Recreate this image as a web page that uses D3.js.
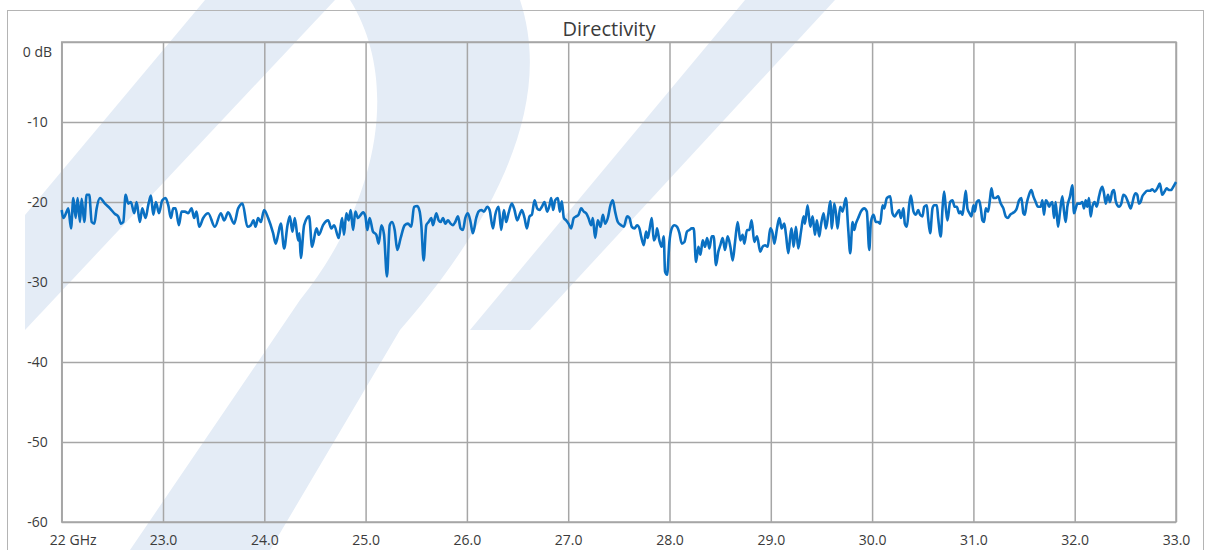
<!DOCTYPE html>
<html>
<head>
<meta charset="utf-8">
<style>
    body { margin: 0; background: #fff; }
    text { font-family: "Open Sans", sans-serif; fill: #3b3b3b; }
    .grid line { stroke: #a6a6a6; stroke-width: 1.5; }
    .grid path { display: none; }
</style>
</head>
<body>
<svg id="chart" width="1207" height="550"></svg>
<script src="https://cdn.jsdelivr.net/npm/d3@7/dist/d3.min.js"></script>
<script>
const freqGHz = [
    22.000, 22.016, 22.049, 22.065, 22.092, 22.115, 22.138, 22.157, 22.180, 22.197,
    22.223, 22.246, 22.272, 22.296, 22.322, 22.345, 22.378, 22.427, 22.476, 22.526,
    22.558, 22.585, 22.608, 22.631, 22.657, 22.683, 22.716, 22.739, 22.772, 22.795,
    22.828, 22.854, 22.881, 22.904, 22.930, 22.960, 22.992, 23.025, 23.052, 23.078,
    23.101, 23.124, 23.157, 23.183, 23.216, 23.249, 23.282, 23.308, 23.331, 23.357,
    23.397, 23.446, 23.512, 23.571, 23.604, 23.643, 23.702, 23.742, 23.785, 23.834,
    23.867, 23.893, 23.913, 23.939, 23.966, 23.998, 24.038, 24.087, 24.113, 24.136,
    24.163, 24.196, 24.229, 24.252, 24.278, 24.301, 24.334, 24.347, 24.360, 24.393,
    24.442, 24.472, 24.515, 24.538, 24.580, 24.630, 24.662, 24.689, 24.735,
    24.768, 24.787, 24.810, 24.833, 24.853, 24.876, 24.899, 24.925, 24.952, 24.975,
    24.998, 25.017, 25.040, 25.073, 25.106, 25.129, 25.156, 25.182, 25.211, 25.238,
    25.261, 25.287, 25.313, 25.346, 25.386, 25.418, 25.451, 25.478, 25.511, 25.534,
    25.550, 25.573, 25.599, 25.622, 25.649, 25.665, 25.698, 25.721, 25.741, 25.764,
    25.787, 25.813, 25.839, 25.862, 25.885, 25.912, 25.938, 25.961, 25.984, 26.010,
    26.036, 26.059, 26.092, 26.115,
    26.142, 26.168, 26.201, 26.224, 26.257, 26.280, 26.313, 26.339, 26.365, 26.388,
    26.411, 26.444, 26.470, 26.497, 26.520, 26.543, 26.569, 26.592, 26.618, 26.641,
    26.668, 26.694, 26.717, 26.740, 26.766, 26.793, 26.816, 26.832, 26.852, 26.871,
    26.898, 26.917, 26.937, 26.957, 26.980, 27.003, 27.029, 27.055, 27.079, 27.102,
    27.128, 27.154, 27.177, 27.200, 27.227, 27.243, 27.266, 27.292, 27.319, 27.342,
    27.365, 27.391, 27.417, 27.440, 27.463, 27.490,
    27.522, 27.549, 27.582, 27.605, 27.628, 27.654, 27.680, 27.703, 27.720, 27.746,
    27.769, 27.785, 27.802, 27.825, 27.845, 27.868, 27.877, 27.900, 27.923, 27.943,
    27.956, 27.976, 27.999, 28.022, 28.048, 28.075, 28.098, 28.121, 28.147, 28.173,
    28.196, 28.219, 28.239, 28.262, 28.285, 28.305, 28.328, 28.351, 28.371, 28.394,
    28.417, 28.436, 28.459, 28.482, 28.502, 28.525, 28.548, 28.574, 28.601, 28.624,
    28.647, 28.673, 28.699, 28.722, 28.739, 28.765, 28.788, 28.811, 28.837, 28.864,
    28.896, 28.919, 28.943, 28.969, 28.995, 29.018, 29.035, 29.061, 29.084, 29.107,
    29.133, 29.150, 29.173, 29.192, 29.205, 29.225, 29.248, 29.271, 29.298, 29.324,
    29.337, 29.363, 29.390, 29.413, 29.436, 29.455, 29.478, 29.495, 29.521, 29.544,
    29.567, 29.587, 29.603, 29.626, 29.643, 29.659, 29.685, 29.708, 29.741, 29.764,
    29.784, 29.807, 29.823, 29.840, 29.863, 29.889, 29.922, 29.948, 29.972, 29.988,
    30.014, 30.037, 30.060, 30.080, 30.103, 30.119, 30.146, 30.179, 30.201, 30.225,
    30.244,
    30.267, 30.284, 30.310, 30.323, 30.343, 30.366, 30.382, 30.409, 30.432, 30.455,
    30.474, 30.497, 30.514, 30.540, 30.553, 30.573, 30.596, 30.613, 30.639, 30.652,
    30.678, 30.695, 30.711, 30.728, 30.744, 30.770, 30.793, 30.816, 30.836, 30.859,
    30.875, 30.892, 30.908, 30.925, 30.941, 30.961, 30.981, 31.000, 31.013, 31.033,
    31.056, 31.073, 31.089, 31.106, 31.122, 31.145, 31.165, 31.178, 31.198, 31.221,
    31.244, 31.270, 31.296, 31.319, 31.342, 31.362, 31.385, 31.408, 31.428, 31.451,
    31.474, 31.493, 31.507, 31.526, 31.549, 31.572, 31.592, 31.615, 31.638,
    31.664, 31.681, 31.697, 31.714, 31.730, 31.747, 31.763, 31.779, 31.796, 31.812,
    31.835, 31.855, 31.878, 31.895, 31.911, 31.927, 31.954, 31.977, 31.993, 32.010,
    32.026, 32.052, 32.075, 32.092, 32.108, 32.124, 32.141, 32.157, 32.174, 32.197,
    32.217, 32.240, 32.256, 32.273, 32.289, 32.306, 32.329, 32.348, 32.371, 32.388,
    32.404, 32.420, 32.437, 32.460, 32.480, 32.503, 32.526, 32.552, 32.568, 32.585,
    32.601, 32.618, 32.634, 32.651, 32.667, 32.690, 32.716, 32.743, 32.766, 32.789,
    32.815, 32.841, 32.864, 32.887, 32.907, 32.930, 32.953, 32.973, 33.000
]

const directivityDb = [
    -21.0, -22.0, -21.2, -20.8, -23.3, -19.5, -22.0, -19.5, -22.5, -19.6,
    -22.5, -19.1, -19.1, -22.5, -22.7, -20.8, -19.5, -20.2, -20.8, -21.5,
    -21.8, -22.7, -22.5, -19.1, -20.2, -20.0, -21.4, -20.0, -22.5, -20.8,
    -22.0, -20.4, -19.2, -21.6, -20.0, -21.4, -19.8, -19.5, -20.4, -22.0,
    -20.8, -20.8, -22.9, -21.2, -21.2, -21.4, -20.8, -22.0, -21.2, -23.1,
    -22.0, -21.4, -23.1, -21.4, -22.3, -21.3, -22.7, -20.8, -20.2, -23.1,
    -22.9, -22.3, -23.1, -22.0, -22.5, -21.0, -22.0, -23.9, -25.2, -24.1,
    -22.7, -25.8, -22.9, -21.8, -23.7, -22.0, -24.8, -23.9, -27.0, -22.9,
    -21.8, -25.6, -23.3, -24.1, -22.9, -22.3, -23.3, -22.9, -24.5,
    -22.0, -24.1, -21.4, -22.3, -21.0, -23.5, -21.2, -22.0, -21.6, -21.3,
    -21.8, -23.5, -22.0, -23.7, -24.1, -25.2, -22.9, -24.1, -29.3, -22.9,
    -22.5, -23.5, -26.0, -24.5, -22.9, -22.7, -23.1, -20.6, -20.5, -21.2,
    -22.9, -27.3, -22.9, -22.5, -22.0, -22.9, -21.4, -22.3, -22.5, -22.0,
    -22.7, -22.3, -22.7, -22.9, -22.5, -21.8, -23.3, -23.5, -22.0, -21.4,
    -22.5, -23.9, -22.0, -21.2,
    -21.0, -21.2, -20.6, -21.0, -23.3, -21.6, -20.6, -23.5, -21.0, -22.5,
    -21.4, -20.2, -21.0, -22.3, -21.6, -21.0, -22.0, -23.3, -21.8, -21.6,
    -19.8, -20.8, -21.0, -20.6, -20.0, -21.2, -20.4, -19.5, -21.0, -19.8,
    -19.5, -21.2, -19.9, -22.0, -22.3, -22.7, -23.3, -22.0, -21.8, -21.6,
    -20.8, -21.2, -21.4, -22.0, -22.9, -22.0, -24.5, -22.3, -23.1, -21.6,
    -22.7, -22.0, -20.4, -19.8, -21.2, -22.5,
    -22.9, -23.1, -21.8, -22.0, -23.1, -23.3, -22.9, -23.3, -24.3, -25.4,
    -23.7, -24.5, -23.5, -22.0, -24.8, -24.1, -23.3, -24.8, -25.6, -24.3,
    -28.7, -29.1, -25.0, -23.3, -22.9, -23.1, -23.9, -25.2, -25.0, -23.7,
    -23.5, -23.3, -23.3, -27.5, -25.6, -26.6, -24.8, -25.6, -24.5, -25.8,
    -24.3, -24.3, -27.9, -26.2, -25.4, -24.5, -26.0, -24.3, -25.6, -27.3,
    -25.0, -22.5, -24.8, -24.1, -25.2, -23.5, -23.5, -22.3, -25.0, -24.3,
    -26.2, -25.6, -25.4, -25.6, -23.3, -23.9, -25.2, -23.3, -22.0, -23.3,
    -22.7, -24.1, -26.4, -24.3, -23.3, -25.6, -23.1, -25.8, -23.7, -21.8,
    -22.7, -20.4, -23.1, -21.8, -24.1, -22.3, -24.3, -22.9, -21.4, -23.3,
    -21.6, -19.9, -23.3, -20.2, -21.4, -23.3, -20.6, -21.2, -19.5, -23.3,
    -26.4, -22.5, -23.5, -22.7, -22.0, -21.2, -20.8, -21.2, -26.0, -22.5,
    -21.6, -22.5, -22.5, -22.7, -20.4, -20.8, -19.5, -19.3, -21.4, -21.8,
    -21.4,
    -21.0, -22.0, -20.8, -22.7, -23.1, -20.4, -19.2, -21.2, -21.6, -21.0,
    -21.6, -21.8, -20.6, -20.4, -22.0, -23.9, -20.8, -20.4, -20.4, -22.0,
    -24.3, -20.8, -18.7, -20.8, -22.3, -20.0, -19.8, -20.6, -20.6, -21.4,
    -21.2, -21.6, -20.2, -18.6, -20.8, -21.4, -21.8, -20.4, -21.2, -20.0,
    -19.8, -20.8, -22.3, -22.5, -20.8, -21.2, -19.5, -18.3, -19.5, -19.5,
    -19.3, -20.2, -20.8, -21.8, -22.0, -21.6, -21.4, -21.2, -20.8, -19.8,
    -19.5, -21.4, -21.6, -20.2, -19.1, -18.5, -19.3, -20.0, -20.6,
    -20.6, -19.8, -21.6, -19.8, -20.0, -20.6, -20.2, -20.0, -22.0, -20.0,
    -23.1, -21.2, -19.3, -21.2, -22.5, -20.6, -19.3, -17.9, -21.4, -20.8,
    -20.2, -20.2, -20.0, -20.8, -19.8, -20.6, -19.5, -21.8, -20.6, -20.0,
    -20.6, -19.3, -18.5, -18.1, -18.9, -20.2, -19.1, -20.0, -18.7, -18.5,
    -19.8, -20.4, -20.6, -20.2, -19.1, -19.3, -20.0, -20.8, -20.2, -19.3,
    -18.9, -19.1, -20.2, -20.0, -19.3, -18.9, -18.6, -18.6, -18.4, -18.7,
    -18.3, -17.7, -19.1, -18.7, -18.3, -18.5, -18.5, -18.1, -17.5
]

const xTicks = [22, 23, 24, 25, 26, 27, 28, 29, 30, 31, 32, 33]
const xTickLabels = ["22 GHz", "23.0", "24.0", "25.0", "26.0", "27.0", "28.0", "29.0", "30.0", "31.0", "32.0", "33.0"]
const yTicks = [0, -10, -20, -30, -40, -50, -60]
const yTickLabels = ["0 dB", "-10", "-20", "-30", "-40", "-50", "-60"]

let svg = d3.select("#chart")

// faint background watermark
let mark = svg.append("g").attr("fill", "#e4ecf6")
mark.append("path").attr("d", "M205,0 L335,0 L25,330 L25,215 Z")
mark.append("path").attr("d", "M350,0 L520,0 C560,120 470,250 400,330 L270,550 L130,550 L300,300 C380,200 400,80 350,0 Z")
mark.append("path").attr("d", "M745,0 L835,0 L530,330 L470,330 Z")

// outer frame
svg.append("rect")
    .attr("x", 7.5).attr("y", 10.5)
    .attr("width", 1196).attr("height", 560)
    .attr("fill", "none")
    .attr("stroke", "#b4b4b4")

const plotLeft = 61.7, plotRight = 1176, plotTop = 42, plotBottom = 522

let x = d3.scaleLinear().domain([22, 33]).range([plotLeft, plotRight])
let y = d3.scaleLinear().domain([-60, 0]).range([plotBottom, plotTop])

// vertical grid + x labels
let xAxis = svg.append("g")
    .attr("class", "grid")
    .attr("transform", `translate(0,${plotBottom})`)
    .call(d3.axisBottom(x)
        .tickValues(xTicks)
        .tickSize(-(plotBottom - plotTop))
        .tickPadding(13)
        .tickFormat((d, i) => xTickLabels[i]))
xAxis.selectAll("text")
    .attr("font-size", 14)
    .attr("font-family", "Open Sans")
    .attr("fill", "#3b3b3b")
    .attr("dx", (d, i) => i == 0 ? 11 : 0)

// horizontal grid + y labels
let yAxis = svg.append("g")
    .attr("class", "grid")
    .attr("transform", `translate(${plotLeft},0)`)
    .call(d3.axisLeft(y)
        .tickValues(yTicks)
        .tickSize(-(plotRight - plotLeft))
        .tickPadding(0)
        .tickFormat((d, i) => yTickLabels[i]))
yAxis.selectAll("text")
    .attr("font-size", 14)
    .attr("font-family", "Open Sans")
    .attr("fill", "#3b3b3b")
    .attr("text-anchor", "middle")
    .attr("x", 37.5 - plotLeft)
    .attr("dy", (d, i) => i == 0 ? "1.05em" : "0.35em")

// plot border
svg.append("rect")
    .attr("x", plotLeft).attr("y", plotTop)
    .attr("width", plotRight - plotLeft).attr("height", plotBottom - plotTop)
    .attr("fill", "none")
    .attr("stroke", "#a6a6a6")
    .attr("stroke-width", 1.5)

// the trace
let line = d3.line()
    .x(i => x(freqGHz[i]))
    .y(i => y(directivityDb[i]))
    .curve(d3.curveMonotoneX)

svg.append("path")
    .attr("d", line(d3.range(freqGHz.length)))
    .attr("fill", "none")
    .attr("stroke", "#0a70c2")
    .attr("stroke-width", 2.6)
    .attr("stroke-linejoin", "round")

svg.append("text")
    .attr("x", 609)
    .attr("y", 36)
    .attr("text-anchor", "middle")
    .attr("font-size", 20)
    .attr("fill", "#333")
    .text("Directivity")
</script>
</body>
</html>
